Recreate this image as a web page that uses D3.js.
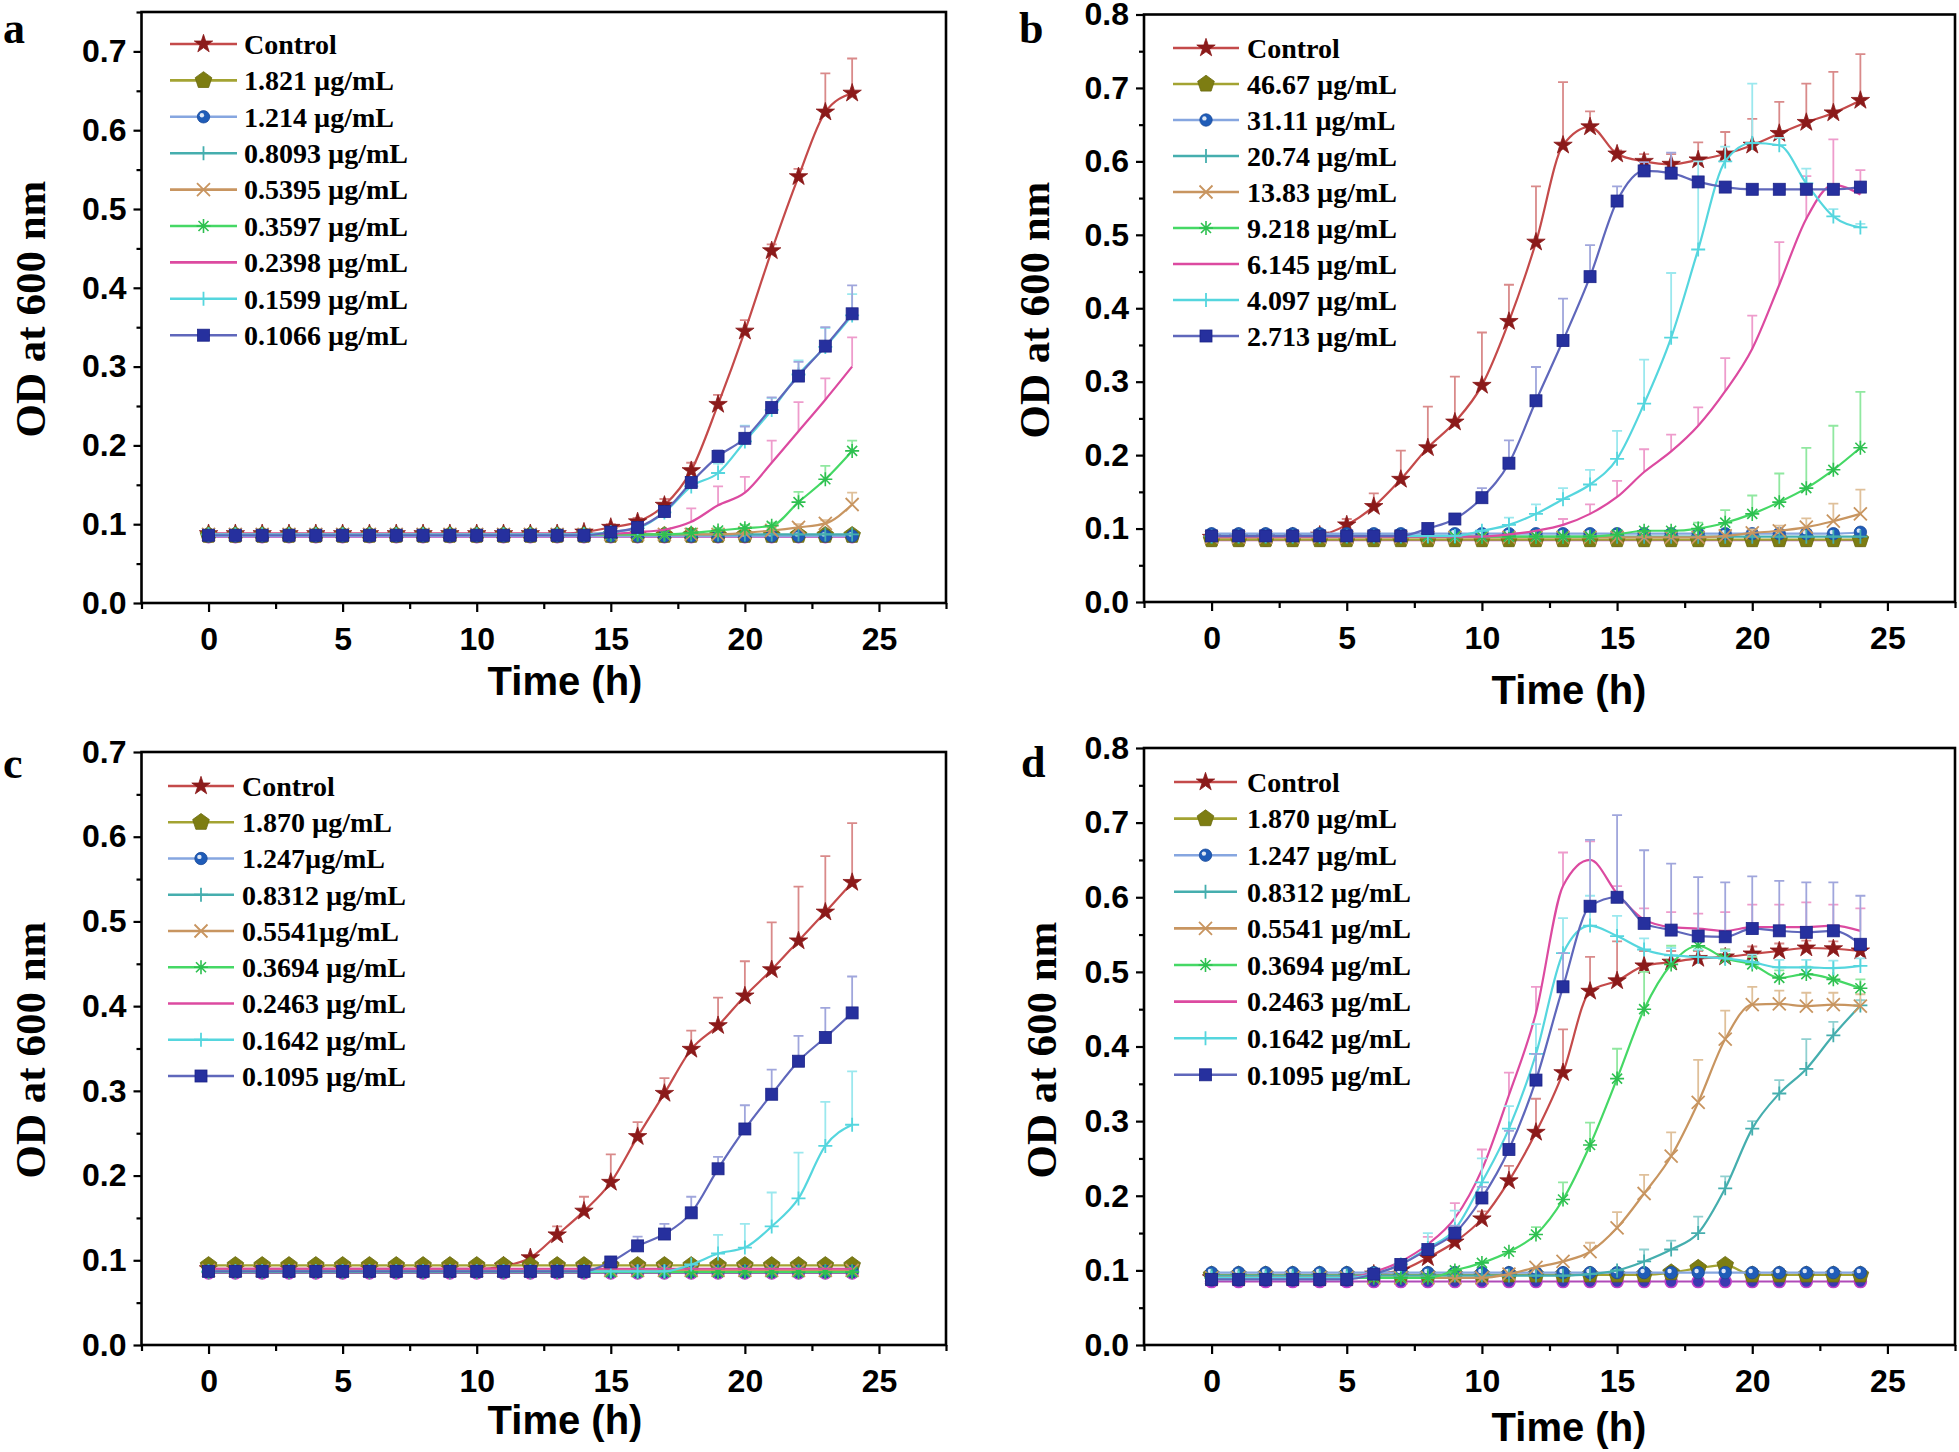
<!DOCTYPE html>
<html><head><meta charset="utf-8">
<script src="https://cdn.jsdelivr.net/npm/d3@7"></script>
<style>body{margin:0;background:#fff}</style></head>
<body>
<svg id="chart" width="1959" height="1452" xmlns="http://www.w3.org/2000/svg"></svg>
<script>
// ---------- DATA ----------
const timeH = [0,1,2,3,4,5,6,7,8,9,10,11,12,13,14,15,16,17,18,19,20,21,22,23,24];
const xTicks = [0,5,10,15,20,25];
const xMinorTicks = [-2.5,2.5,7.5,12.5,17.5,22.5,27.5];
const yTicks07 = [0,0.1,0.2,0.3,0.4,0.5,0.6,0.7];
const yTicks08 = [0,0.1,0.2,0.3,0.4,0.5,0.6,0.7,0.8];
const yMinor075 = [0.05,0.15,0.25,0.35,0.45,0.55,0.65,0.75];
const yMinor07 = [0.05,0.15,0.25,0.35,0.45,0.55,0.65];
const yMinor08 = [0.05,0.15,0.25,0.35,0.45,0.55,0.65,0.75];
const noErr = [0,0,0,0,0,0,0,0,0,0,0,0,0,0,0,0,0,0,0,0,0,0,0,0,0];

// Panel a
const labelsA = ["Control","1.821 µg/mL","1.214 µg/mL","0.8093 µg/mL","0.5395 µg/mL","0.3597 µg/mL","0.2398 µg/mL","0.1599 µg/mL","0.1066 µg/mL"];
const odA = [
 [.088,.088,.088,.088,.088,.088,.088,.088,.088,.088,.088,.088,.088,.088,.090,.096,.103,.124,.168,.252,.345,.447,.541,.623,.647],
 [.086,.086,.086,.086,.086,.086,.086,.086,.086,.086,.086,.086,.086,.086,.086,.086,.086,.086,.086,.086,.086,.086,.086,.086,.086],
 [.085,.085,.085,.085,.085,.085,.085,.085,.085,.085,.085,.085,.085,.085,.085,.085,.085,.085,.085,.085,.085,.085,.085,.085,.085],
 [.087,.087,.087,.087,.087,.087,.087,.087,.087,.087,.087,.087,.087,.087,.087,.087,.087,.087,.087,.087,.087,.087,.087,.087,.087],
 [.087,.087,.087,.087,.087,.087,.087,.087,.087,.087,.087,.087,.087,.087,.087,.087,.087,.087,.087,.087,.089,.092,.096,.101,.125],
 [.087,.087,.087,.087,.087,.087,.087,.087,.087,.087,.087,.087,.087,.087,.087,.087,.087,.087,.089,.092,.095,.098,.128,.157,.193],
 [.088,.088,.088,.088,.088,.088,.088,.088,.088,.088,.088,.088,.088,.088,.088,.088,.090,.093,.103,.124,.140,.178,.218,.258,.300],
 [.087,.087,.087,.087,.087,.087,.087,.087,.087,.087,.087,.087,.087,.087,.087,.090,.095,.115,.148,.165,.205,.245,.290,.325,.365],
 [.086,.086,.086,.086,.086,.086,.086,.086,.086,.086,.086,.086,.086,.086,.086,.090,.096,.116,.153,.186,.209,.248,.288,.326,.367]
];
const errA = [
 [0,0,0,0,0,0,0,0,0,0,0,0,0,0,0,.004,.005,.008,.010,.012,.014,.008,.010,.049,.044],
 noErr, noErr, noErr,
 [0,0,0,0,0,0,0,0,0,0,0,0,0,0,0,0,0,0,0,0,0,.003,.004,.004,.015],
 [0,0,0,0,0,0,0,0,0,0,0,0,0,0,0,0,0,0,0,.003,.004,.004,.013,.017,.013],
 [0,0,0,0,0,0,0,0,0,0,0,0,0,0,0,0,0,0,.017,.024,.020,.028,.037,.027,.037],
 [0,0,0,0,0,0,0,0,0,0,0,0,0,0,0,0,0,0,.005,.012,.020,.015,.018,.024,.027],
 [0,0,0,0,0,0,0,0,0,0,0,0,0,0,0,0,0,0,0,.008,.015,.013,.018,.024,.036]
];
const blankA = [.084,.084,.084,.084,.084,.084,.084,.084,.084,.084,.084,.084,.084,.084,.084,.084,.084,.084,.084,.084,.084,.084,.084,.084,.084];

// Panel b
const labelsB = ["Control","46.67 µg/mL","31.11 µg/mL","20.74 µg/mL","13.83 µg/mL","9.218 µg/mL","6.145 µg/mL","4.097 µg/mL","2.713 µg/mL"];
const odB = [
 [.088,.088,.088,.089,.091,.105,.130,.167,.210,.245,.295,.382,.490,.622,.647,.610,.600,.596,.602,.610,.622,.638,.653,.666,.683],
 [.085,.085,.085,.085,.085,.085,.085,.085,.085,.085,.085,.085,.085,.085,.085,.085,.085,.085,.085,.085,.085,.085,.085,.085,.085],
 [.093,.093,.093,.093,.093,.093,.093,.093,.093,.093,.093,.093,.093,.093,.093,.093,.093,.093,.093,.093,.093,.093,.093,.093,.095],
 [.089,.089,.089,.089,.089,.089,.089,.089,.089,.089,.089,.089,.089,.089,.089,.089,.089,.089,.089,.089,.089,.089,.089,.089,.089],
 [.088,.088,.088,.088,.088,.088,.088,.088,.088,.088,.088,.088,.088,.088,.088,.088,.088,.088,.088,.090,.094,.097,.102,.110,.120],
 [.089,.089,.089,.089,.089,.089,.089,.089,.089,.089,.089,.089,.089,.089,.089,.092,.097,.097,.100,.108,.120,.136,.155,.180,.210],
 [.089,.089,.089,.089,.089,.089,.089,.089,.089,.089,.089,.092,.097,.105,.120,.143,.177,.205,.240,.287,.345,.432,.522,.568,.555],
 [.090,.090,.090,.090,.090,.090,.090,.090,.090,.090,.097,.105,.120,.140,.160,.195,.270,.360,.480,.600,.625,.622,.570,.525,.510],
 [.090,.090,.090,.090,.090,.090,.090,.090,.100,.113,.142,.189,.274,.356,.443,.546,.587,.584,.572,.565,.562,.562,.562,.562,.565]
];
const errB = [
 [0,0,0,0,.003,.008,.018,.039,.056,.062,.072,.050,.076,.086,.021,.005,.010,.014,.024,.030,.036,.043,.053,.056,.063],
 noErr, noErr, noErr,
 [0,0,0,0,0,0,0,0,0,0,0,0,0,0,0,0,0,0,0,0,.005,.007,.012,.024,.033],
 [0,0,0,0,0,0,0,0,0,0,0,0,0,0,0,0,0,0,.008,.017,.025,.039,.055,.060,.076],
 [0,0,0,0,0,0,0,0,0,0,0,0,0,.008,.013,.022,.031,.023,.025,.045,.045,.058,.058,.062,.033],
 [0,0,0,0,0,0,0,0,0,0,0,.010,.013,.015,.020,.038,.060,.088,.120,.020,.081,.010,.020,.010,.005],
 [0,0,0,0,0,0,0,0,0,.004,.013,.031,.046,.057,.043,.020,.012,.028,.005,0,0,0,0,0,0]
];
const blankB = [.084,.084,.084,.084,.084,.084,.084,.084,.084,.084,.084,.084,.084,.084,.084,.084,.084,.084,.084,.084,.084,.084,.084,.084,.084];

// Panel c
const labelsC = ["Control","1.870 µg/mL","1.247µg/mL","0.8312 µg/mL","0.5541µg/mL","0.3694 µg/mL","0.2463 µg/mL","0.1642 µg/mL","0.1095 µg/mL"];
const odC = [
 [.090,.090,.090,.090,.090,.090,.090,.090,.090,.090,.090,.093,.103,.130,.158,.192,.246,.297,.349,.377,.412,.443,.477,.511,.546],
 [.094,.094,.094,.094,.094,.094,.094,.094,.094,.094,.094,.094,.094,.094,.094,.094,.094,.094,.094,.094,.094,.094,.094,.094,.094],
 [.087,.087,.087,.087,.087,.087,.087,.087,.087,.087,.087,.087,.087,.087,.087,.087,.087,.087,.087,.087,.087,.087,.087,.087,.087],
 [.087,.087,.087,.087,.087,.087,.087,.087,.087,.087,.087,.087,.087,.087,.087,.087,.087,.087,.087,.087,.087,.087,.087,.087,.087],
 [.088,.088,.088,.088,.088,.088,.088,.088,.088,.088,.088,.088,.088,.088,.088,.088,.088,.088,.088,.088,.088,.088,.088,.088,.088],
 [.086,.086,.086,.086,.086,.086,.086,.086,.086,.086,.086,.086,.086,.086,.086,.086,.086,.086,.086,.086,.086,.086,.086,.086,.086],
 [.090,.090,.090,.090,.090,.090,.090,.090,.090,.090,.090,.090,.090,.090,.090,.090,.090,.090,.090,.090,.090,.090,.090,.090,.090],
 [.087,.087,.087,.087,.087,.087,.087,.087,.087,.087,.087,.087,.087,.087,.087,.087,.087,.087,.095,.108,.115,.140,.173,.235,.260],
 [.087,.087,.087,.087,.087,.087,.087,.087,.087,.087,.087,.087,.087,.087,.087,.098,.117,.131,.156,.208,.255,.296,.335,.363,.392]
];
const errC = [
 [0,0,0,0,0,0,0,0,0,0,0,0,0,.010,.017,.033,.017,.018,.022,.033,.041,.056,.064,.066,.070],
 noErr, noErr, noErr, noErr, noErr, noErr,
 [0,0,0,0,0,0,0,0,0,0,0,0,0,0,0,0,0,0,0,.022,.028,.040,.054,.052,.063],
 [0,0,0,0,0,0,0,0,0,0,0,0,0,0,0,0,.011,.012,.019,.014,.028,.029,.030,.035,.043]
];
const blankC = [.085,.085,.085,.085,.085,.085,.085,.085,.085,.085,.085,.085,.085,.085,.085,.085,.085,.085,.085,.085,.085,.085,.085,.085,.085];

// Panel d
const labelsD = ["Control","1.870 µg/mL","1.247 µg/mL","0.8312 µg/mL","0.5541 µg/mL","0.3694 µg/mL","0.2463 µg/mL","0.1642 µg/mL","0.1095 µg/mL"];
const odD = [
 [.090,.090,.090,.090,.090,.090,.095,.100,.117,.138,.169,.220,.285,.365,.474,.488,.508,.513,.518,.520,.524,.528,.532,.531,.528],
 [.094,.094,.094,.094,.094,.094,.094,.094,.094,.094,.094,.094,.094,.094,.094,.094,.094,.097,.103,.107,.094,.094,.094,.094,.094],
 [.097,.097,.097,.097,.097,.097,.097,.097,.097,.097,.097,.097,.097,.097,.097,.097,.097,.097,.097,.097,.097,.097,.097,.097,.097],
 [.093,.093,.093,.093,.093,.093,.093,.093,.093,.093,.093,.093,.093,.093,.095,.100,.112,.128,.150,.210,.290,.337,.370,.415,.455],
 [.090,.090,.090,.090,.090,.090,.090,.090,.090,.090,.090,.095,.104,.112,.125,.157,.203,.253,.325,.410,.456,.457,.454,.456,.454],
 [.090,.090,.090,.090,.090,.090,.090,.090,.090,.100,.110,.125,.148,.195,.268,.357,.450,.510,.535,.518,.510,.492,.497,.490,.478],
 [.090,.090,.090,.090,.090,.090,.098,.112,.135,.170,.235,.335,.445,.615,.650,.605,.570,.560,.558,.555,.560,.560,.560,.562,.555],
 [.090,.090,.090,.090,.090,.090,.095,.108,.130,.155,.218,.290,.390,.525,.562,.548,.530,.522,.520,.518,.513,.506,.506,.505,.508],
 [.088,.088,.088,.088,.088,.088,.095,.108,.128,.150,.197,.262,.355,.480,.588,.600,.565,.556,.548,.547,.558,.555,.553,.555,.537]
];
const errD = [
 [0,0,0,0,0,0,0,0,0,0,.010,.020,.045,.058,.046,.053,.020,.015,.010,.010,.010,.010,.010,.010,.010],
 noErr, noErr,
 [0,0,0,0,0,0,0,0,0,0,0,0,0,0,0,0,.016,.012,.022,.016,.010,.018,.040,.018,.007],
 [0,0,0,0,0,0,0,0,0,0,0,0,0,0,.012,.021,.025,.032,.057,.038,.024,.018,.018,.016,.016],
 [0,0,0,0,0,0,0,0,0,0,0,0,.010,.023,.030,.040,.050,.025,.015,.012,.010,.010,.010,.015,.012],
 [0,0,0,0,0,0,0,0,.010,.020,.027,.030,.035,.045,.025,.010,.015,.020,.020,.025,.030,.030,.033,.028,.030],
 [0,0,0,0,0,0,0,0,.020,.025,.032,.030,.040,.047,.040,.027,.015,.010,.010,.010,.010,.010,.010,.010,.010],
 [0,0,0,0,0,0,0,0,0,.010,.015,.025,.035,.045,.089,.110,.098,.089,.079,.073,.070,.067,.067,.065,.065]
];
const blankD = [.085,.085,.085,.085,.085,.085,.085,.085,.085,.085,.085,.085,.085,.085,.085,.085,.085,.085,.085,.085,.085,.085,.085,.085,.085];

// ---------- STYLE ----------
const styles = [
 {line:'#c44a4a', fill:'#8b1a1a', err:'#d98a8a', sym:'star'},
 {line:'#a3a332', fill:'#7d7d12', err:'#c8c870', sym:'pentagon'},
 {line:'#86a6e0', fill:'#1f5cb8', err:'#a8c0ec', sym:'ball'},
 {line:'#45aeae', fill:'#45aeae', err:'#8fd0d0', sym:'plus'},
 {line:'#c89560', fill:'#c89560', err:'#dfc09a', sym:'times'},
 {line:'#45d865', fill:'#2ec050', err:'#90e8a0', sym:'asterisk'},
 {line:'#dc4aa0', fill:'#dc4aa0', err:'#ee9ccc', sym:'none'},
 {line:'#55d6de', fill:'#55d6de', err:'#9be8ee', sym:'plus'},
 {line:'#5f67bb', fill:'#26309e', err:'#a0a6dc', sym:'square'}
];

const panels = [
 {letter:'a', labels:labelsA, od:odA, err:errA, blank:blankA, left:141.5, right:946, top:12, bottom:603, ymax:0.75, yt:yTicks07, ym:yMinor075,
  leg:{x0:170, x1:237, tx:244, y0:44, dy:36.4}, lx:3, ly:43, ylx:30, yly:309, xlx:565, xly:681},
 {letter:'b', labels:labelsB, od:odB, err:errB, blank:blankB, left:1144, right:1955, top:14.5, bottom:602, ymax:0.8, yt:yTicks08, ym:yMinor08,
  leg:{x0:1173, x1:1239, tx:1247, y0:48, dy:36}, lx:1019, ly:43, ylx:1034, yly:310, xlx:1569, xly:690},
 {letter:'c', labels:labelsC, od:odC, err:errC, blank:blankC, left:141.5, right:946, top:752, bottom:1345, ymax:0.7, yt:yTicks07, ym:yMinor07,
  leg:{x0:168, x1:234, tx:242, y0:786, dy:36.25}, lx:3, ly:778, ylx:30, yly:1050, xlx:565, xly:1420},
 {letter:'d', labels:labelsD, od:odD, err:errD, blank:blankD, left:1144, right:1955, top:748, bottom:1345, ymax:0.8, yt:yTicks08, ym:yMinor08,
  leg:{x0:1174, x1:1237, tx:1247, y0:782, dy:36.6}, lx:1021, ly:777, ylx:1041, yly:1050, xlx:1569, xly:1427}
];

const svg = d3.select('#chart');
const SANS = "'Liberation Sans', Arial, sans-serif";
const SERIF = "'Liberation Serif', 'Times New Roman', serif";

const pentagon = { draw(ctx, size){ const r = Math.sqrt(size)/1.3; for(let i=0;i<5;i++){ const a = -Math.PI/2 + i*2*Math.PI/5; const px=r*Math.cos(a), py=r*Math.sin(a); if(i===0) ctx.moveTo(px,py); else ctx.lineTo(px,py);} ctx.closePath(); } };

function drawMarker(g, sym, st, cx, cy){
  if(sym==='none') return;
  const m = g.append('g').attr('transform',`translate(${cx},${cy})`);
  if(sym==='star'){
    m.append('path').attr('d', d3.symbol(d3.symbolStar, 105)()).attr('fill', st.fill).attr('stroke', st.fill).attr('stroke-width',0.8);
  } else if(sym==='pentagon'){
    m.append('path').attr('d', d3.symbol(pentagon, 130)()).attr('fill', st.fill).attr('stroke', '#6b6b10').attr('stroke-width',0.8);
  } else if(sym==='ball'){
    m.append('circle').attr('r',6.2).attr('fill', st.fill).attr('stroke','#1a4a99').attr('stroke-width',0.8);
    m.append('circle').attr('cx',-1.6).attr('cy',-1.6).attr('r',2.2).attr('fill','#ffffff').attr('opacity',0.85);
  } else if(sym==='square'){
    m.append('rect').attr('x',-6).attr('y',-6).attr('width',12).attr('height',12).attr('fill', st.fill).attr('stroke','#1c2488').attr('stroke-width',0.8);
  } else if(sym==='plus'){
    m.append('path').attr('d','M-7,0H7M0,-7V7').attr('stroke', st.fill).attr('stroke-width',1.8).attr('fill','none');
  } else if(sym==='times'){
    m.append('path').attr('d','M-6.5,-6.5L6.5,6.5M-6.5,6.5L6.5,-6.5').attr('stroke', st.fill).attr('stroke-width',1.8).attr('fill','none');
  } else if(sym==='asterisk'){
    m.append('path').attr('d','M-7,0H7M0,-7V7M-5,-5L5,5M-5,5L5,-5').attr('stroke', st.fill).attr('stroke-width',1.6).attr('fill','none');
  }
}

function drawPanel(p){
  const g = svg.append('g');
  const x = d3.scaleLinear().domain([-2.5,27.5]).range([p.left,p.right]);
  const y = d3.scaleLinear().domain([0,p.ymax]).range([p.bottom,p.top]);

  const styleAxis = s => { s.select('.domain').remove(); s.selectAll('line').attr('stroke','#000').attr('stroke-width',2.2);
    s.selectAll('text').attr('font-family',SANS).attr('font-weight','bold').attr('font-size',32).attr('fill','#000'); s.attr('font-size',null).attr('font-family',null); };

  g.append('g').attr('transform',`translate(0,${p.bottom})`)
    .call(d3.axisBottom(x).tickValues(xMinorTicks).tickSize(6).tickFormat('')).call(styleAxis);
  g.append('g').attr('transform',`translate(0,${p.bottom})`)
    .call(d3.axisBottom(x).tickValues(xTicks).tickSize(9).tickPadding(15).tickFormat(d3.format('d'))).call(styleAxis);
  g.append('g').attr('transform',`translate(${p.left},0)`)
    .call(d3.axisLeft(y).tickValues(p.ym).tickSize(5).tickFormat('')).call(styleAxis);
  g.append('g').attr('transform',`translate(${p.left},0)`)
    .call(d3.axisLeft(y).tickValues(p.yt).tickSize(8).tickPadding(7).tickFormat(d3.format('.1f'))).call(styleAxis);

  // frame
  g.append('rect').attr('x',p.left).attr('y',p.top).attr('width',p.right-p.left).attr('height',p.bottom-p.top)
    .attr('fill','none').attr('stroke','#000').attr('stroke-width',2.6);

  const line = d3.line().x((d,i)=>x(timeH[i])).y(d=>y(d)).curve(d3.curveMonotoneX);

  // blank baseline (unlabelled)
  const bl = g.append('g');
  bl.append('path').attr('d', line(p.blank)).attr('fill','none').attr('stroke','#b04ab8').attr('stroke-width',2);
  p.blank.forEach((v,i)=>{ bl.append('circle').attr('cx',x(timeH[i])).attr('cy',y(v)).attr('r',6).attr('fill','#3a3ab0').attr('stroke','#c040c8').attr('stroke-width',1.6); });

  p.od.forEach((vals, k)=>{
    const st = styles[k];
    const sg = g.append('g');
    const ev = p.err[k];
    vals.forEach((v,i)=>{
      const e = ev[i]; if(!e) return;
      const cx = x(timeH[i]), y0 = y(v), y1 = y(v+e);
      sg.append('path').attr('d',`M${cx},${y0}V${y1}M${cx-5},${y1}H${cx+5}`).attr('stroke',st.err).attr('stroke-width',1.8).attr('fill','none');
    });
    sg.append('path').attr('d', line(vals)).attr('fill','none').attr('stroke',st.line).attr('stroke-width',2.2);
    vals.forEach((v,i)=> drawMarker(sg, st.sym, st, x(timeH[i]), y(v)));
  });

  // legend
  const lg = g.append('g');
  p.labels.forEach((lab,k)=>{
    const st = styles[k]; const yy = p.leg.y0 + k*p.leg.dy;
    lg.append('line').attr('x1',p.leg.x0).attr('x2',p.leg.x1).attr('y1',yy).attr('y2',yy).attr('stroke',st.line).attr('stroke-width',2.6);
    drawMarker(lg, st.sym, st, (p.leg.x0+p.leg.x1)/2, yy);
    lg.append('text').attr('x',p.leg.tx).attr('y',yy).attr('dy','0.35em').text(lab)
      .attr('font-family',SERIF).attr('font-weight','bold').attr('font-size',28).attr('fill','#000');
  });

  // titles
  g.append('text').attr('x',p.lx).attr('y',p.ly).text(p.letter).attr('font-family',SERIF).attr('font-weight','bold').attr('font-size',44);
  g.append('text').attr('transform',`translate(${p.ylx},${p.yly}) rotate(-90)`).attr('text-anchor','middle').attr('dy','0.35em')
    .text('OD at 600 nm').attr('font-family',SERIF).attr('font-weight','bold').attr('font-size',43);
  g.append('text').attr('x',p.xlx).attr('y',p.xly).attr('text-anchor','middle').attr('dy','0.35em')
    .text('Time (h)').attr('font-family',SANS).attr('font-weight','bold').attr('font-size',40);
}

panels.forEach(drawPanel);
</script>
</body></html>
